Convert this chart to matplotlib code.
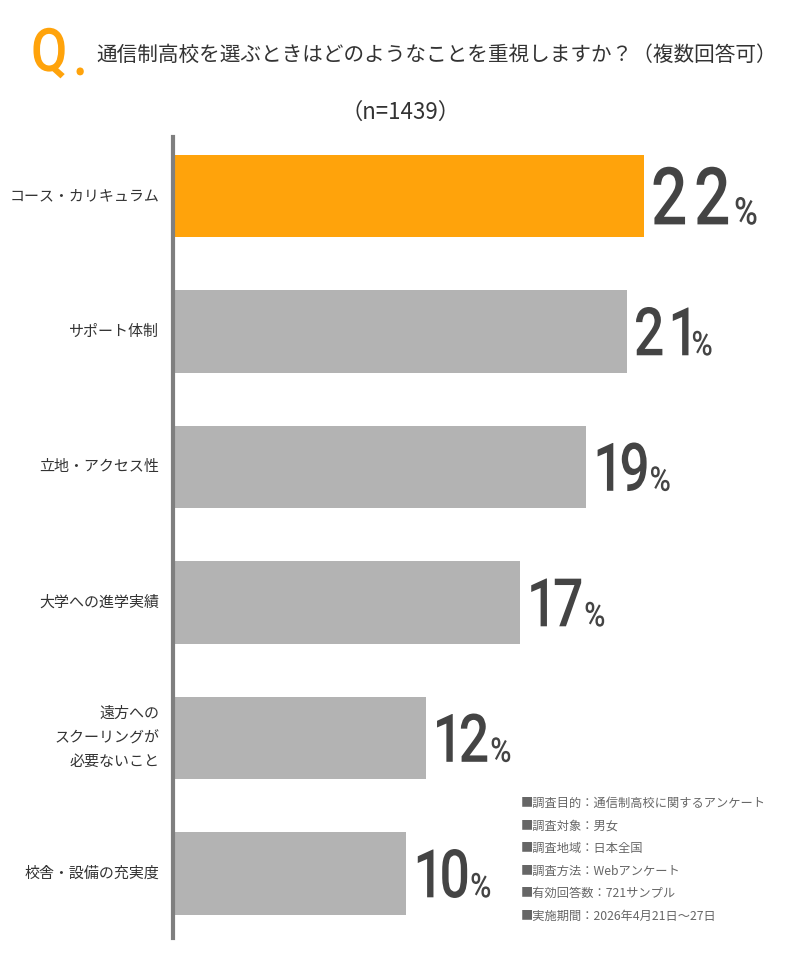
import matplotlib
matplotlib.use("Agg")
import matplotlib.pyplot as plt
from matplotlib.textpath import TextPath
from matplotlib.patches import PathPatch
from matplotlib.font_manager import FontProperties
from matplotlib.transforms import Affine2D, IdentityTransform

plt.rcParams['font.family'] = ['Noto Sans CJK JP', 'DejaVu Sans']

# data
categories = ["コース・カリキュラム", "サポート体制", "立地・アクセス性", "大学への進学実績",
              "遠方への\nスクーリングが\n必要ないこと", "校舎・設備の充実度"]
values = [22.0, 21.2, 19.3, 16.2, 11.8, 10.9]
labels = ["22", "21", "19", "17", "12", "10"]
colors = ["#FFA30B", "#B3B3B3", "#B3B3B3", "#B3B3B3", "#B3B3B3", "#B3B3B3"]

notes = ["■調査目的：通信制高校に関するアンケート", "■調査対象：男女", "■調査地域：日本全国",
         "■調査方法：Webアンケート", "■有効回答数：721サンプル", "■実施期間：2026年4月21日～27日"]

W, H = 800, 973
fig = plt.figure(figsize=(W / 100, H / 100), dpi=100)

num_prop = FontProperties(family="Roboto", weight="medium")


def narrow_text(x, y, s, size, color, sx=0.8, track=0, prop=num_prop):
    # squeezed text drawn char by char, x/y in pixels (baseline, from bottom)
    end = x
    for ch in s:
        tp = TextPath((0, 0), ch, size=size, prop=prop)
        tr = Affine2D().scale(sx, 1).translate(x, y)
        fig.add_artist(PathPatch(tr.transform_path(tp), facecolor=color,
                                 edgecolor="none", transform=IdentityTransform()))
        end = x + tp.get_extents().x1 * sx
        x = end + track
    return end


# axes: left edge at x=173, top 137, bottom 938
ax = fig.add_axes([173 / W, 1 - 938 / H, 1 - 173 / W, (938 - 137) / H])
ypos = list(range(len(categories)))
ax.barh(ypos, values, height=0.61, color=colors)
ax.set_xlim(0, 627 / 21.41)
ax.set_ylim(5 + 0.476, -0.435)

for s in ["top", "right", "bottom"]:
    ax.spines[s].set_visible(False)
ax.spines["left"].set_color("#7F7F7F")
ax.spines["left"].set_linewidth(3)
ax.set_xticks([])
ax.set_yticks([])

for y, v, cat in zip(ypos, values, categories):
    ax.annotate(cat, (0, y), xytext=(-10, 0), textcoords="offset points",
                ha="right", va="center", fontsize=10.8, color="#333333",
                linespacing=1.9)

# value labels, first one is larger
for i, (y, v, lab) in enumerate(zip(ypos, values, labels)):
    px, py = ax.transData.transform((v, y))
    if i == 0:
        big, small, gap, tr = 80, 38, 6, 9
    else:
        big, small, gap, tr = 67, 34, 3, 6
    base = py - big * 0.711 / 2
    xe = narrow_text(px + 7, base, lab, big, "#444444", sx=0.8, track=tr)
    narrow_text(xe + gap, base, "%", small, "#444444", sx=0.85)

# title
narrow_text(31, H - 71, "Q", 60, "#FFA30B", sx=0.88)
narrow_text(73, H - 75, ".", 60, "#FFA30B", sx=0.88)
fig.text(96 / W, 1 - 55 / H, "通信制高校を選ぶときはどのようなことを重視しますか？（複数回答可）",
         fontsize=14.85, color="#333333", ha="left", va="center")
fig.text(400 / W, 1 - 112 / H, "（n=1439）", fontsize=16, color="#333333",
         ha="center", va="center")

for i, n in enumerate(notes):
    fig.text(521 / W, 1 - (803 + i * 22.7) / H, n, fontsize=8.8, color="#666666",
             ha="left", va="center")

fig.savefig("out.png", dpi=100)
